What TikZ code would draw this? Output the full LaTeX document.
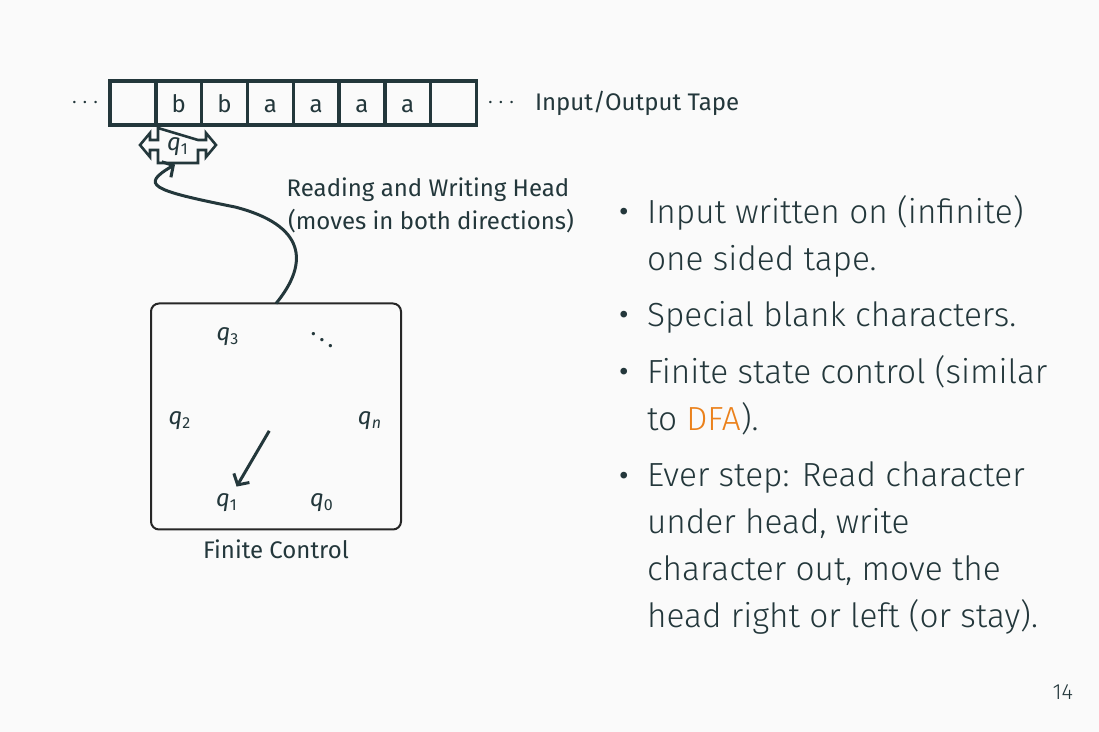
\documentclass[tikz,border=0pt]{standalone}
\usepackage{fontspec}
\setmainfont{Fira Sans}
\newfontfamily\lightfont{Fira Sans Light}
\usetikzlibrary{arrows.meta,calc}
\definecolor{mteal}{HTML}{23373B}
\definecolor{morange}{HTML}{EB811B}
\definecolor{bgcol}{HTML}{FAFAFA}
\newcommand{\qlab}[1]{\textit{q}\textsubscript{#1}}
\begin{document}
\begin{tikzpicture}[x=0.5pt,y=-0.5pt,
  every node/.style={text=mteal, inner sep=0pt, outer sep=0pt},
  fig/.style={font=\fontsize{12}{16.5}\selectfont},
  cell/.style={fig, draw=mteal, line width=1.7pt, minimum width=22.9pt, minimum height=22pt, text height=9.7pt, text depth=0pt},
  qn/.style={fig, anchor=base},
  bul/.style={font=\lightfont\fontsize{16.7}{23.5}\selectfont, anchor=base west},
  dotb/.style={font=\fontsize{24}{24}\selectfont, anchor=base},
  conn/.style={draw=mteal, line width=1.5pt, -{Straight Barb[length=4pt,width=9pt,line width=1.5pt]}},
]
\useasboundingbox[fill=bgcol] (0,0) rectangle (1099,732);

% tape
\foreach \i/\t in {0/{},1/b,2/b,3/a,4/a,5/a,6/a,7/{}}
  \node[cell] (c\i) at ({110+45.8*(\i+0.5)},103) {\t};
\node[fig] (ldots) at (85,103) {$\cdots$};
\node[fig] (rdots) at (501,103) {$\cdots$};
\node[fig, anchor=west] (tapelab) at (535,103) {Input/Output Tape};

% head
\node[fig, minimum width=20pt, minimum height=17.5pt] (head) at (178,147) {\qlab{1}};
\draw[mteal, line width=1.3pt, line join=miter]
  (158,128) -- (158,140) -- (150,140) -- (150,133) -- (140,145) -- (150,157) -- (150,150) -- (158,150) -- (158,163)
  -- (198,163) -- (198,150) -- (206,150) -- (206,157) -- (216,145) -- (206,133) -- (206,140) -- (198,140) -- cycle;

\node[fig, anchor=base] (lab1) at (428,197) {Reading and Writing Head};
\node[fig, anchor=base] (lab2) at (431,229.5) {(moves in both directions)};

% finite control
\node[draw=black!85, line width=1pt, rounded corners=4pt, minimum width=125pt, minimum height=113pt] (fc) at (276,416.5) {};
\node[fig, anchor=base] (fclab) at (276,559) {Finite Control};
\coordinate (ctr) at (275,421);
\node[qn] (q3) at (228,341) {\qlab{3}};
\node[qn] (qd) at (322,350) {$\ddots$};
\node[qn] (q2) at (180,425) {\qlab{2}};
\node[qn] (qN) at (370,425) {\textit{q}\textsubscript{\textit{n}}};
\node[qn] (q1) at (227,507) {\qlab{1}};
\node[qn] (q0) at (322,507) {\qlab{0}};
\draw[conn] ($(ctr)!0.12!(227,503)$) -- ($(ctr)!0.80!(227,503)$);

\draw[conn] (fc.north) .. controls (310,262) and (305,225) .. (235,207)
  .. controls (150,190) and (140,185) .. ([xshift=-1.5pt]head.south);

% bullets
\node[dotb] (b1) at (624,226.5) {·};
\node[bul] (t11) at (647,223.3) {Input written on (infinite)};
\node[bul] (t12) at (647,270.3) {one sided tape.};
\node[dotb] (b2) at (624,329.9) {·};
\node[bul] (t21) at (647,326.7) {Special blank characters.};
\node[dotb] (b3) at (624,386.7) {·};
\node[bul] (t31) at (647,383.5) {Finite state control (similar};
\node[bul] (t32) at (647,430.5) {to \textcolor{morange}{DFA}).};
\node[dotb] (b4) at (624,490.2) {·};
\node[bul] (t41) at (647,487) {Ever step: Read character};
\node[bul] (t42) at (647,533.7) {under head, write};
\node[bul] (t43) at (647,580.5) {character out, move the};
\node[bul] (t44) at (647,627.3) {head right or left (or stay).};

\node[font=\lightfont\fontsize{11}{13}\selectfont, anchor=base east] (pg) at (1073,700) {14};
\end{tikzpicture}
\end{document}
